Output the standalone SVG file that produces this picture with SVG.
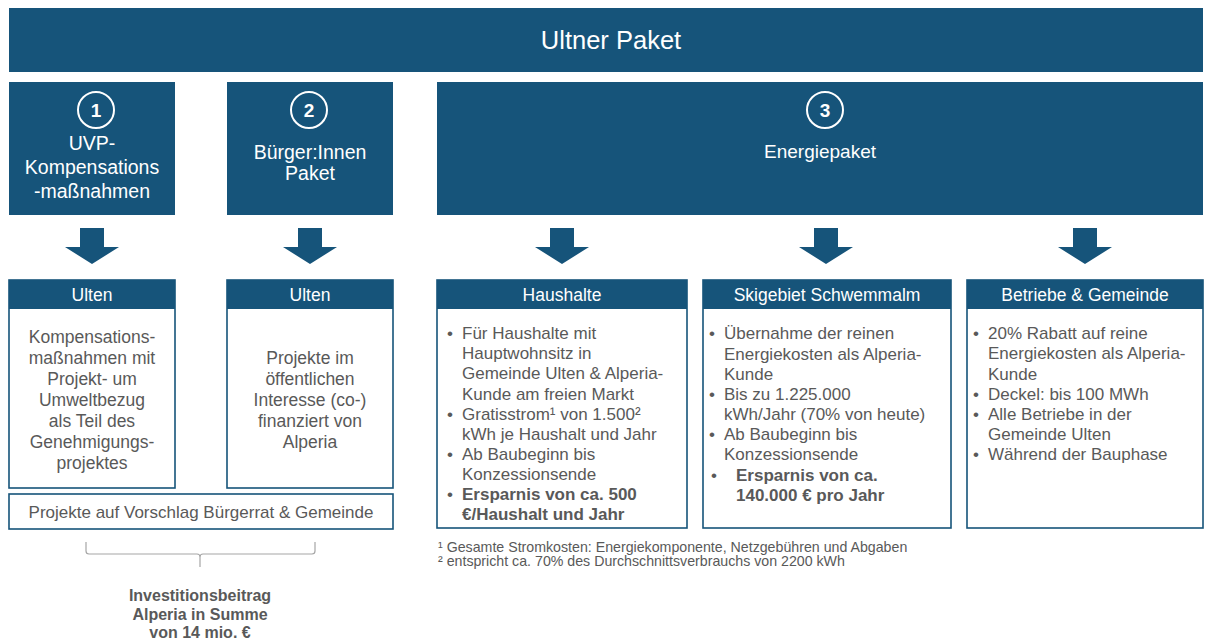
<svg xmlns="http://www.w3.org/2000/svg" width="1212" height="642" viewBox="0 0 1212 642">
<style>
.blue{fill:#16547a}
.box{fill:#fff;stroke:#16547a;stroke-width:1.6}
.t{font-family:"Liberation Sans",Arial,sans-serif}
.w{fill:#fff}
.g{fill:#595959}
.hdr{font-size:17.5px;fill:#fff;text-anchor:middle}
.body{font-size:17.5px;fill:#595959;text-anchor:middle}
.li{font-size:17px;fill:#595959}
.b{font-weight:bold}
.num{fill:none;stroke:#fff;stroke-width:2}
</style>
<defs>
<path id="arr" d="M-12,0 H12 V19 H27 L0,36 L-27,19 H-12 Z"/>
</defs>
<rect width="1212" height="642" fill="#fff"/>

<g id="title">
<rect class="blue" x="9" y="8" width="1194" height="64"/>
<text class="t w" x="611" y="49" font-size="25.5" text-anchor="middle">Ultner Paket</text>
</g>

<g id="pkg1">
<rect class="blue" x="9" y="82" width="166" height="133"/>
<circle class="num" cx="96" cy="110" r="18"/>
<text class="t w b" x="96" y="117" font-size="19" text-anchor="middle">1</text>
<text class="t w" font-size="19.5" text-anchor="middle"><tspan x="92" y="150">UVP-</tspan><tspan x="92" y="174">Kompensations</tspan><tspan x="92" y="198">-maßnahmen</tspan></text>
</g>

<g id="pkg2">
<rect class="blue" x="227" y="82" width="166" height="133"/>
<circle class="num" cx="309" cy="110" r="18"/>
<text class="t w b" x="309" y="117" font-size="19" text-anchor="middle">2</text>
<text class="t w" font-size="19.5" text-anchor="middle"><tspan x="310" y="159">Bürger:Innen</tspan><tspan x="310" y="180">Paket</tspan></text>
</g>

<g id="pkg3">
<rect class="blue" x="437" y="82" width="766" height="133"/>
<circle class="num" cx="825" cy="110" r="18"/>
<text class="t w b" x="825" y="117" font-size="19" text-anchor="middle">3</text>
<text class="t w" x="820" y="158" font-size="19" text-anchor="middle">Energiepaket</text>
</g>

<g id="connectors" class="blue">
<use href="#arr" x="92" y="228"/>
<use href="#arr" x="310" y="228"/>
<use href="#arr" x="562" y="228"/>
<use href="#arr" x="826" y="228"/>
<use href="#arr" x="1085" y="228"/>
<path d="M86,542 V551 Q86,554 89,554 H197 Q200,554 200,557 V567 M200,557 Q200,554 203,554 H312 Q315,554 315,551 V542" fill="none" stroke="#a6a6a6" stroke-width="1.2"/>
</g>

<g id="ulten1">
<rect class="box" x="9" y="280" width="166" height="208"/>
<rect class="blue" x="9" y="280" width="166" height="29"/>
<text class="t hdr" x="92" y="301">Ulten</text>
<text class="t body"><tspan x="92" y="343">Kompensations-</tspan><tspan x="92" y="364">maßnahmen mit</tspan><tspan x="92" y="385">Projekt- um</tspan><tspan x="92" y="406">Umweltbezug</tspan><tspan x="92" y="427">als Teil des</tspan><tspan x="92" y="448">Genehmigungs-</tspan><tspan x="92" y="469">projektes</tspan></text>
</g>

<g id="ulten2">
<rect class="box" x="227" y="280" width="166" height="208"/>
<rect class="blue" x="227" y="280" width="166" height="29"/>
<text class="t hdr" x="310" y="301">Ulten</text>
<text class="t body"><tspan x="310" y="364">Projekte im</tspan><tspan x="310" y="385">öffentlichen</tspan><tspan x="310" y="406">Interesse (co-)</tspan><tspan x="310" y="427">finanziert von</tspan><tspan x="310" y="448">Alperia</tspan></text>
</g>

<g id="vorschlag">
<rect class="box" x="9" y="494" width="384" height="35"/>
<text class="t g" x="201" y="518" font-size="17" text-anchor="middle">Projekte auf Vorschlag Bürgerrat &amp; Gemeinde</text>
</g>

<g id="invest">
<text class="t g b" font-size="16" text-anchor="middle"><tspan x="200" y="601">Investitionsbeitrag</tspan><tspan x="200" y="620">Alperia in Summe</tspan><tspan x="200" y="638">von 14 mio. €</tspan></text>
</g>

<g id="haushalte">
<rect class="box" x="437" y="280" width="250" height="248"/>
<rect class="blue" x="437" y="280" width="250" height="29"/>
<text class="t hdr" x="562" y="301">Haushalte</text>
<text class="t li">
<tspan x="447" y="339">•</tspan><tspan x="462" y="339">Für Haushalte mit</tspan>
<tspan x="462" y="359">Hauptwohnsitz in</tspan>
<tspan x="462" y="379">Gemeinde Ulten &amp; Alperia-</tspan>
<tspan x="462" y="400">Kunde am freien Markt</tspan>
<tspan x="447" y="420">•</tspan><tspan x="462" y="420">Gratisstrom¹ von 1.500²</tspan>
<tspan x="462" y="440">kWh je Haushalt und Jahr</tspan>
<tspan x="447" y="460">•</tspan><tspan x="462" y="460">Ab Baubeginn bis</tspan>
<tspan x="462" y="480">Konzessionsende</tspan>
<tspan x="447" y="500">•</tspan><tspan x="462" y="500" font-weight="bold">Ersparnis von ca. 500</tspan>
<tspan x="462" y="520" font-weight="bold">€/Haushalt und Jahr</tspan>
</text>
</g>

<g id="skigebiet">
<rect class="box" x="703" y="280" width="248" height="248"/>
<rect class="blue" x="703" y="280" width="248" height="29"/>
<text class="t hdr" x="827" y="301">Skigebiet Schwemmalm</text>
<text class="t li">
<tspan x="709" y="339">•</tspan><tspan x="724" y="339">Übernahme der reinen</tspan>
<tspan x="724" y="360">Energiekosten als Alperia-</tspan>
<tspan x="724" y="380">Kunde</tspan>
<tspan x="709" y="400">•</tspan><tspan x="724" y="400">Bis zu 1.225.000</tspan>
<tspan x="724" y="420">kWh/Jahr (70% von heute)</tspan>
<tspan x="709" y="440">•</tspan><tspan x="724" y="440">Ab Baubeginn bis</tspan>
<tspan x="724" y="460">Konzessionsende</tspan>
<tspan x="711" y="481">•</tspan><tspan x="736" y="481" font-weight="bold">Ersparnis von ca.</tspan>
<tspan x="736" y="501" font-weight="bold">140.000 € pro Jahr</tspan>
</text>
</g>

<g id="betriebe">
<rect class="box" x="967" y="280" width="236" height="248"/>
<rect class="blue" x="967" y="280" width="236" height="29"/>
<text class="t hdr" x="1085" y="301">Betriebe &amp; Gemeinde</text>
<text class="t li">
<tspan x="973" y="339">•</tspan><tspan x="988" y="339">20% Rabatt auf reine</tspan>
<tspan x="988" y="359">Energiekosten als Alperia-</tspan>
<tspan x="988" y="380">Kunde</tspan>
<tspan x="973" y="400">•</tspan><tspan x="988" y="400">Deckel: bis 100 MWh</tspan>
<tspan x="973" y="420">•</tspan><tspan x="988" y="420">Alle Betriebe in der</tspan>
<tspan x="988" y="440">Gemeinde Ulten</tspan>
<tspan x="973" y="460">•</tspan><tspan x="988" y="460">Während der Bauphase</tspan>
</text>
</g>

<g id="footnotes">
<text class="t g" font-size="14.2"><tspan x="438" y="552">¹ Gesamte Stromkosten: Energiekomponente, Netzgebühren und Abgaben</tspan><tspan x="438" y="566">² entspricht ca. 70% des Durchschnittsverbrauchs von 2200 kWh</tspan></text>
</g>
</svg>
